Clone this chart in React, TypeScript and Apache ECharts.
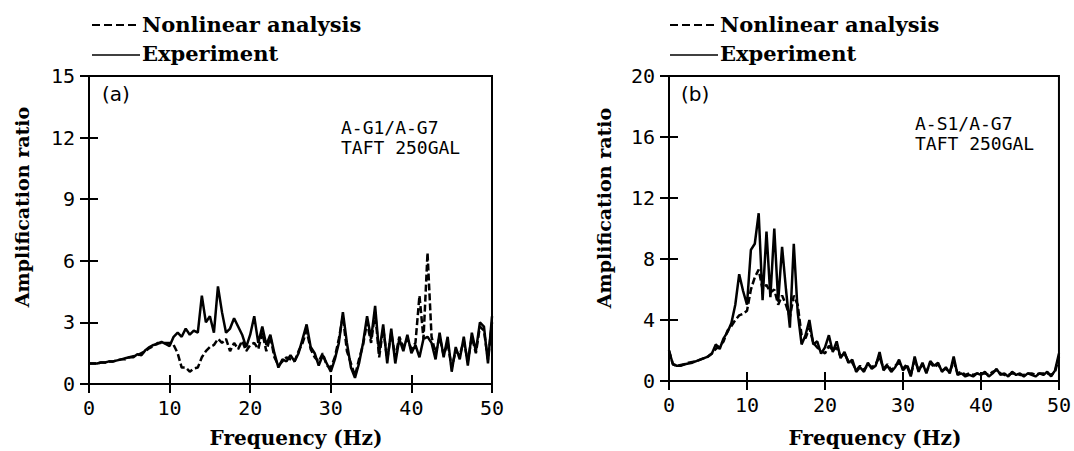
import React, { useEffect, useRef } from "react";
import * as echarts from "echarts";

// Frequency grid (Hz)
const freq = [
  0, 0.5, 1, 1.5, 2, 2.5, 3, 3.5, 4, 4.5,
  5, 5.5, 6, 6.5, 7, 7.5, 8, 8.5, 9, 9.5,
  10, 10.5, 11, 11.5, 12, 12.5, 13, 13.5, 14, 14.5,
  15, 15.5, 16, 16.5, 17, 17.5, 18, 18.5, 19, 19.5,
  20, 20.5, 21, 21.5, 22, 22.5, 23, 23.5, 24, 24.5,
  25, 25.5, 26, 26.5, 27, 27.5, 28, 28.5, 29, 29.5,
  30, 30.5, 31, 31.5, 32, 32.5, 33, 33.5, 34, 34.5,
  35, 35.5, 36, 36.5, 37, 37.5, 38, 38.5, 39, 39.5,
  40, 40.5, 41, 41.5, 42, 42.5, 43, 43.5, 44, 44.5,
  45, 45.5, 46, 46.5, 47, 47.5, 48, 48.5, 49, 49.5,
  50,
];

// Panel (a): A-G1/A-G7
const experimentA = [
  1.0, 1.0, 1.0, 1.05, 1.05, 1.1, 1.1, 1.15, 1.2, 1.25,
  1.3, 1.3, 1.45, 1.4, 1.65, 1.8, 1.9, 1.95, 2.05, 1.95,
  1.85, 2.3, 2.5, 2.3, 2.7, 2.4, 2.6, 2.5, 4.3, 3.0,
  3.3, 2.5, 4.75, 3.5, 2.5, 2.7, 3.2, 2.8, 2.4, 1.8,
  2.4, 3.3, 2.0, 2.8, 1.9, 2.4, 1.5, 0.8, 1.2, 1.1,
  1.4, 1.1, 1.5, 2.2, 2.9, 1.8, 1.5, 0.9, 1.4, 1.0,
  0.6, 1.2, 2.0, 3.5, 2.0, 0.8, 0.3, 1.0, 2.0, 3.3,
  2.2, 3.8, 1.5, 2.9, 1.0, 2.7, 1.0, 2.2, 1.6, 2.4,
  1.5, 1.9, 1.3, 2.2, 2.3, 2.0, 1.2, 2.5, 1.3, 2.3,
  0.6, 1.8, 1.2, 2.3, 0.9, 2.5, 1.6, 3.0, 2.8, 1.0,
  3.3,
];
const nonlinearA = [
  1.0, 1.0, 1.0, 1.05, 1.05, 1.1, 1.1, 1.15, 1.2, 1.2,
  1.3, 1.35, 1.4, 1.5, 1.6, 1.75, 1.85, 2.0, 2.0, 2.0,
  2.0, 1.9, 1.5, 0.8, 0.8, 0.6, 0.75, 0.8, 1.3, 1.6,
  1.8, 1.9, 2.2, 2.0, 2.2, 1.6, 2.0, 1.7, 2.1, 1.6,
  1.9, 2.0, 1.7, 2.5, 1.6, 2.3, 1.3, 0.9, 1.1, 1.3,
  1.2, 1.1, 1.6, 2.0, 2.6, 1.7, 1.3, 1.1, 1.5, 0.9,
  0.8, 1.3, 2.2, 3.3, 1.6, 1.0, 0.4, 1.2, 1.9, 3.0,
  2.0, 3.5, 1.3, 2.7, 1.2, 2.5, 1.3, 2.3, 1.8, 2.2,
  1.7, 2.0, 4.3, 2.2, 6.4, 2.3, 1.5, 2.3, 1.4, 2.0,
  0.8, 1.6, 1.4, 2.1, 1.1, 2.3, 1.5, 2.8, 2.6, 1.2,
  3.0,
];

// Panel (b): A-S1/A-G7
const experimentB = [
  2.0, 1.1, 1.0, 1.0, 1.1, 1.15, 1.2, 1.3, 1.4, 1.5,
  1.6, 1.8, 2.4, 2.1, 2.8, 3.2, 3.8, 5.0, 7.0, 5.9,
  5.0, 8.6, 9.0, 11.0, 5.3, 9.8, 5.5, 10.0, 5.2, 8.8,
  6.0, 3.5, 9.0, 4.5, 2.4, 3.0, 4.0, 2.4, 2.6, 1.8,
  2.2, 3.0, 1.9, 2.6, 1.5, 1.9, 1.2, 1.4, 0.6, 0.9,
  0.6, 1.2, 0.8, 1.0, 1.9, 0.7, 1.0, 0.6, 0.9, 1.4,
  0.7, 1.0, 0.3, 1.6, 0.6, 1.2, 0.5, 1.3, 1.0, 1.2,
  0.6, 0.9, 0.5, 1.6, 0.4, 0.5, 0.3, 0.4, 0.3, 0.5,
  0.4, 0.6, 0.3, 0.5, 0.8, 0.4, 0.5, 0.3, 0.6, 0.4,
  0.5, 0.3, 0.5, 0.4, 0.3, 0.5, 0.4, 0.6, 0.3, 0.7,
  1.8,
];
const nonlinearB = [
  2.0, 1.1, 1.0, 1.05, 1.1, 1.2, 1.25, 1.3, 1.4, 1.5,
  1.6, 1.8, 2.1, 2.3, 2.6, 3.3, 3.6, 4.0, 4.3, 4.4,
  4.6, 6.0, 6.8, 7.3, 6.0, 6.3, 5.8, 6.0, 5.0, 5.6,
  5.0, 4.2, 5.6, 5.0, 3.0, 2.8, 3.5, 2.5, 2.2, 2.0,
  1.8, 2.3, 2.0, 2.2, 1.6, 1.8, 1.3, 1.2, 0.7, 1.0,
  0.7, 1.1, 0.9, 1.1, 1.6, 0.8, 1.1, 0.7, 1.0, 1.2,
  0.8, 1.1, 0.4, 1.4, 0.7, 1.1, 0.6, 1.2, 0.9, 1.1,
  0.7, 0.8, 0.6, 1.3, 0.5, 0.6, 0.4, 0.5, 0.4, 0.5,
  0.5, 0.5, 0.4, 0.6, 0.7, 0.5, 0.4, 0.4, 0.5, 0.5,
  0.4, 0.4, 0.5, 0.5, 0.4, 0.5, 0.5, 0.5, 0.4, 0.6,
  1.6,
];

const seriesNames = ["Nonlinear analysis", "Experiment"];
const panelTags = ["(a)", "(b)"];
const notesA = ["A-G1/A-G7", "TAFT 250GAL"];
const notesB = ["A-S1/A-G7", "TAFT 250GAL"];
const xTitle = "Frequency (Hz)";
const yTitle = "Amplification ratio";
const xMax = 50;
const xStep = 10;
const yMaxA = 15;
const yStepA = 3;
const yMaxB = 20;
const yStepB = 4;

const SERIF = "DejaVu Serif";
const MONO = "DejaVu Sans Mono";
const SANS = "DejaVu Sans";

const pairs = (ys: number[]) => freq.map((f, i) => [f, ys[i]]);

export default function App() {
  const ref = useRef<HTMLDivElement>(null);
  useEffect(() => {
    if (!ref.current) return;
    const chart = echarts.init(ref.current, undefined, { renderer: "svg" });

    const grids = [
      { left: 89, top: 76, width: 403, height: 308 },
      { left: 669, top: 76, width: 393, height: 305 },
    ];

    const tick = { inside: true, length: 9, lineStyle: { color: "#000", width: 2 } };
    const label = { color: "#000", fontFamily: MONO, fontSize: 20, margin: 14 };
    const mkX = (gi: number, pos: string, show: boolean) => ({
      gridIndex: gi,
      type: "value",
      min: 0,
      max: xMax,
      interval: xStep,
      position: pos,
      axisLine: { show: false },
      axisTick: tick,
      splitLine: { show: false },
      axisLabel: show ? label : { show: false },
    });
    const mkY = (gi: number, pos: string, show: boolean, max: number, step: number) => ({
      gridIndex: gi,
      type: "value",
      min: 0,
      max,
      interval: step,
      position: pos,
      axisLine: { show: false },
      axisTick: tick,
      splitLine: { show: false },
      axisLabel: show ? label : { show: false },
    });

    const line = (xi: number, yi: number, data: number[], dashed: boolean, name: string) => ({
      type: "line",
      name,
      xAxisIndex: xi,
      yAxisIndex: yi,
      data: pairs(data),
      showSymbol: false,
      symbol: "none",
      lineStyle: { color: "#000", width: 2.5, type: dashed ? [7, 3] : "solid" },
      silent: true,
    });

    const txt = (
      x: number,
      y: number,
      text: string,
      font: string,
      size: number,
      extra: any = {},
      weight: string = "normal"
    ) => ({
      type: "text",
      x,
      y,
      silent: true,
      ...extra,
      style: {
        text,
        fontFamily: font,
        fontSize: size,
        fontWeight: weight,
        fill: "#000",
        align: extra.align || "left",
        verticalAlign: "middle",
      },
    });

    const legend = (x0: number) => [
      {
        type: "line",
        shape: { x1: x0, y1: 25, x2: x0 + 48, y2: 25 },
        style: { stroke: "#000", lineWidth: 2, lineDash: [8, 4] },
        silent: true,
      },
      txt(x0 + 50, 24, seriesNames[0], SERIF, 21, {}, "bold"),
      {
        type: "line",
        shape: { x1: x0, y1: 55, x2: x0 + 48, y2: 55 },
        style: { stroke: "#000", lineWidth: 1.5 },
        silent: true,
      },
      txt(x0 + 50, 53, seriesNames[1], SERIF, 21, {}, "bold"),
    ];

    const graphic: any[] = [
      ...legend(92),
      ...legend(670),
      txt(102, 94, panelTags[0], SANS, 20),
      txt(681, 94, panelTags[1], SANS, 20),
      txt(341, 127, notesA[0], MONO, 18),
      txt(341, 147, notesA[1], MONO, 18),
      txt(915, 123, notesB[0], MONO, 18),
      txt(915, 143, notesB[1], MONO, 18),
      txt(296, 438, xTitle, SERIF, 20, { align: "center" }, "bold"),
      txt(875, 438, xTitle, SERIF, 20, { align: "center" }, "bold"),
      txt(22, 207, yTitle, SERIF, 19, { align: "center", rotation: Math.PI / 2 }, "bold"),
      txt(604, 208, yTitle, SERIF, 19, { align: "center", rotation: Math.PI / 2 }, "bold"),
    ];

    chart.setOption({
      animation: false,
      backgroundColor: "#fff",
      grid: grids.map((g) => ({ ...g, show: true, borderColor: "#000", borderWidth: 2, backgroundColor: "transparent" })),
      xAxis: [mkX(0, "bottom", true), mkX(0, "top", false), mkX(1, "bottom", true), mkX(1, "top", false)],
      yAxis: [
        mkY(0, "left", true, yMaxA, yStepA),
        mkY(0, "right", false, yMaxA, yStepA),
        mkY(1, "left", true, yMaxB, yStepB),
        mkY(1, "right", false, yMaxB, yStepB),
      ],
      series: [
        line(0, 0, nonlinearA, true, seriesNames[0]),
        line(0, 0, experimentA, false, seriesNames[1]),
        line(2, 2, nonlinearB, true, seriesNames[0]),
        line(2, 2, experimentB, false, seriesNames[1]),
      ],
      graphic,
    });
    return () => chart.dispose();
  }, []);
  return (
    <div
      ref={ref}
      style={{ position: "absolute", left: 0, top: 0, width: 1074, height: 451, background: "#fff" }}
    />
  );
}
